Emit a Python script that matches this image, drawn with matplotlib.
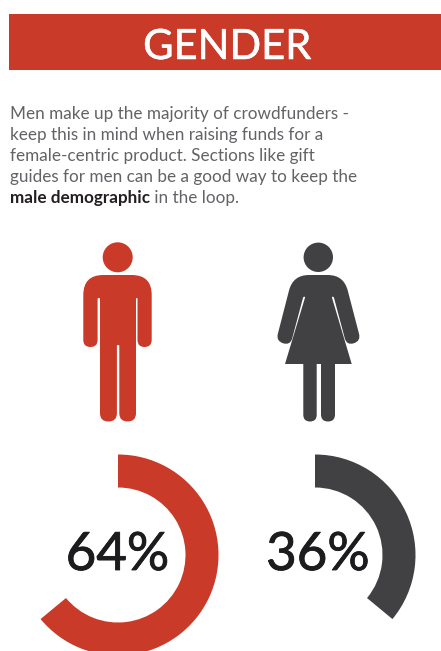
import numpy as np
import matplotlib
matplotlib.use("Agg")
import matplotlib.pyplot as plt
import matplotlib.patheffects as pe
from matplotlib.patches import Circle, PathPatch, Rectangle
from matplotlib.path import Path

RED = "#c93a28"
DARK = "#414042"

title = "GENDER"
body_lines = [
    "Men make up the majority of crowdfunders -",
    "keep this in mind when raising funds for a",
    "female-centric product. Sections like gift",
    "guides for men can be a good way to keep the",
]
bold_part = "male demographic"
last_part = " in the loop."

shares = [64, 36]
ring_colors = [RED, DARK]
ring_centers = [(118, 555), (315, 555)]
label_centers = [(117.5, 551), (318, 551)]


def rounded_outline(points):
    """Closed path through (x, y, corner radius) vertices."""
    pts = np.array([p[:2] for p in points], dtype=float)
    n = len(pts)
    verts, codes = [], []
    for i, (x, y, r) in enumerate(points):
        here = pts[i]
        to_prev = pts[i - 1] - here
        to_next = pts[(i + 1) % n] - here
        r = min(r, np.linalg.norm(to_prev) / 2, np.linalg.norm(to_next) / 2)
        start = here + to_prev / np.linalg.norm(to_prev) * r
        end = here + to_next / np.linalg.norm(to_next) * r
        verts.append(start)
        codes.append(Path.MOVETO if i == 0 else Path.LINETO)
        verts += [here, end]
        codes += [Path.CURVE3, Path.CURVE3]
    verts.append(verts[0])
    codes.append(Path.CLOSEPOLY)
    return Path(verts, codes)


man_outline = [
    (83.3, 275, 20), (151.7, 275, 20), (151.7, 347, 7.1), (137.5, 347, 7.1),
    (137.5, 298, 1), (136, 298, 1), (136, 421.5, 8.3), (119.3, 421.5, 8.3),
    (119.3, 345, 1), (116.9, 345, 1), (116.9, 421.5, 8.3), (100, 421.5, 8.3),
    (100, 298, 1), (97.6, 298, 1), (97.6, 347, 7.1), (83.3, 347, 7.1),
]
woman_outline = [
    (293, 275, 16), (343.7, 275, 16), (360.9, 341, 7.4), (346.7, 345.5, 7.4),
    (333.7, 296.7, 1), (331.7, 296.7, 1), (351.7, 364, 0), (335, 364, 0),
    (335, 421.5, 7), (321, 421.5, 7), (321, 364, 0), (316.7, 364, 0),
    (316.7, 421.5, 6.7), (303.3, 421.5, 6.7), (303.3, 364, 0), (285, 364, 0),
    (305.3, 296.7, 1), (303.3, 296.7, 1), (290.3, 345.5, 7.4), (276, 341, 7.4),
]

plt.rcParams["font.family"] = ["Lato", "DejaVu Sans"]

fig = plt.figure(figsize=(4.41, 6.51), dpi=100)
ax = fig.add_axes([0, 0, 1, 1])

# header band
ax.add_patch(Rectangle((9, 14), 432, 56, color=RED, lw=0))
ax.text(227, 43.5, title, color="white", fontsize=30, ha="center", va="center_baseline",
        path_effects=[pe.withStroke(linewidth=0.4, foreground="white")])

# intro paragraph
BODY_SIZE = 12.3
baselines = [119, 140, 161, 182, 203]
for line, base in zip(body_lines, baselines):
    ax.text(10, base, line, color="#626366", fontsize=BODY_SIZE, va="baseline")
bold = ax.text(10, baselines[4], bold_part, color="#231f20", fontsize=BODY_SIZE,
               fontweight="bold", va="baseline")

# figures
ax.add_patch(Circle((117.7, 257.3), 15, color=RED, lw=0))
ax.add_patch(PathPatch(rounded_outline(man_outline), color=RED, lw=0))
ax.add_patch(Circle((318.3, 257.3), 14.7, color=DARK, lw=0))
ax.add_patch(PathPatch(rounded_outline(woman_outline), color=DARK, lw=0))

# y runs downward here, so angles turn clockwise on screen
for share, color, center, label_xy in zip(shares, ring_colors, ring_centers, label_centers):
    ax.pie([share, 100 - share], colors=[color, "none"], center=center, radius=100.5,
           startangle=-90, counterclock=True, frame=True,
           wedgeprops={"width": 33, "linewidth": 0})
    ax.text(label_xy[0], label_xy[1], f"{share}%", color="#1c1c1e", fontsize=38,
            ha="center", va="center_baseline",
            path_effects=[pe.withStroke(linewidth=0.6, foreground="#1c1c1e")])

ax.set_xlim(0, 441)
ax.set_ylim(651, 0)
ax.set_aspect("auto")
ax.axis("off")

# continue the last line right after the bold words
fig.canvas.draw()
box = bold.get_window_extent()
end_x = ax.transData.inverted().transform((box.x1, 0))[0]
ax.text(end_x, baselines[4], last_part, color="#626366", fontsize=BODY_SIZE, va="baseline")

fig.savefig("out.png", dpi=100, facecolor="white")
